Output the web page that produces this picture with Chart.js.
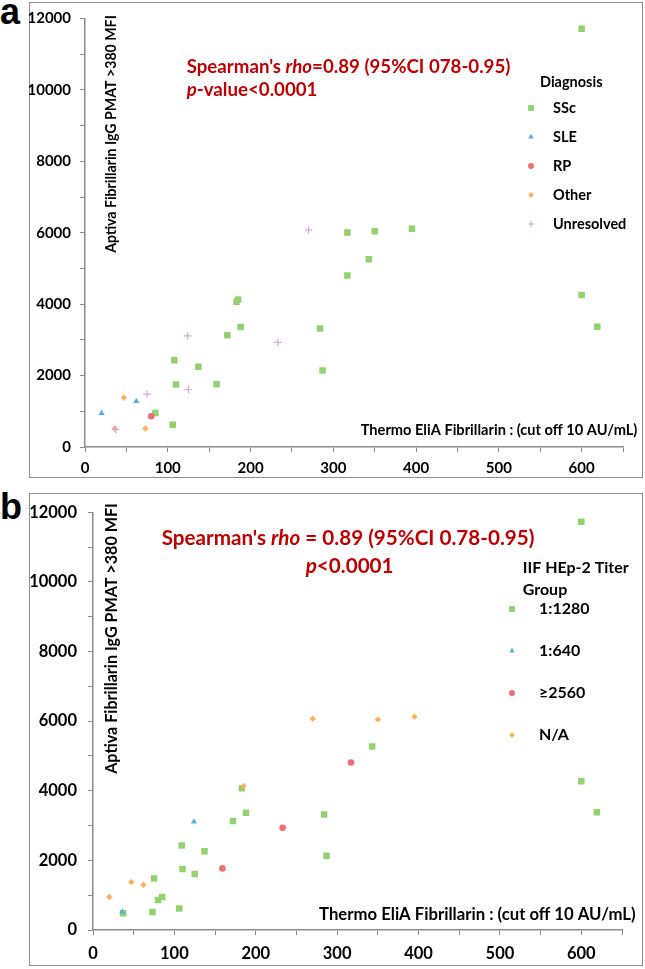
<!DOCTYPE html>
<html><head><meta charset="utf-8">
<script src="https://cdn.jsdelivr.net/npm/chart.js@4.4.1/dist/chart.umd.min.js"></script>
<style>
html,body{margin:0;padding:0;background:#fff;}
body{width:645px;height:969px;position:relative;overflow:hidden;}
.frame{position:absolute;border:1.5px solid #8c8c8c;box-sizing:border-box;}
.tag{position:absolute;font-family:"Liberation Sans",Arial,sans-serif;font-weight:bold;color:#000;line-height:1;}
canvas{position:absolute;}
</style>
</head><body>
<div class="tag" style="left:0px;top:-6px;font-size:36px;">a</div>
<div class="tag" style="left:0px;top:489px;font-size:36px;">b</div>
<div class="frame" style="left:29px;top:2px;width:614px;height:476px;"></div>
<div class="frame" style="left:29px;top:493px;width:614px;height:473px;"></div>
<canvas id="ca" width="614" height="476" style="left:29px;top:2px;width:614px;height:476px;"></canvas>
<canvas id="cb" width="614" height="473" style="left:29px;top:493px;width:614px;height:473px;"></canvas>
<script>
// ---------- DATA: panel a (Diagnosis) ----------
const a_SSc_x = [85,106,108,110,137,159,172,183,185,188,284,287,317,317,343,350,395,600,600,619];
const a_SSc_y = [950,620,2430,1750,2250,1760,3130,4070,4130,3360,3320,2140,4800,6010,5260,6040,6110,11710,4260,3370];
const a_SLE_x = [20,62];
const a_SLE_y = [950,1280];
const a_RP_x = [80];
const a_RP_y = [860];
const a_Other_x = [36,47,73];
const a_Other_y = [520,1380,520];
const a_Unres_x = [37,75,124,125,233,270];
const a_Unres_y = [490,1480,3110,1610,2930,6080];

// ---------- DATA: panel b (IIF HEp-2 Titer Group) ----------
const b_1280_x = [37,73,75,80,85,106,109,110,125,137,172,183,188,284,287,343,600,600,619];
const b_1280_y = [480,520,1480,860,950,620,2430,1750,1610,2260,3130,4070,3370,3320,2130,5270,11730,4270,3380];
const b_640_x = [36,124];
const b_640_y = [520,3110];
const b_2560_x = [159,233,317];
const b_2560_y = [1770,2935,4810];
const b_NA_x = [20,47,62,185,270,350,395];
const b_NA_y = [950,1380,1300,4140,6070,6050,6130];

// ---------- labels / ticks ----------
const legendA = ['SSc','SLE','RP','Other','Unresolved'];
const legendB = ['1:1280','1:640','\u22652560','N/A'];
const xTickLabels = [0,100,200,300,400,500,600];
const yTickLabels = [0,2000,4000,6000,8000,10000,12000];
const xTitle = 'Thermo EliA Fibrillarin : (cut off 10 AU/mL)';
const yTitle = 'Aptiva Fibrillarin IgG PMAT >380 MFI';

const pts = (xs, ys) => xs.map((x, i) => ({x, y: ys[i]}));

const STY = {
  green:  {c:'#93D36F', ps:'rect',     r:4.6},
  blue:   {c:'#55B0E2', ps:'triangle', r:3.6},
  red:    {c:'#EE6E72', ps:'circle',   r:3.3},
  orange: {c:'#FFB061', ps:'rectRot',  r:3.2},
  purple: {c:'#D9A2E6', ps:'cross',    r:3.7}
};
function ds(label, data, s, n, i) {
  return {label, data, pointStyle:s.ps, pointRadius:s.r, pointHoverRadius:s.r,
    backgroundColor:s.c, borderColor:s.c, borderWidth: s.ps==='cross'?1.2:0,
    showLine:false, order: n - i};
}

const FAM = 'Lato, "Open Sans", sans-serif';
const fontStr = (size, italic) => `${italic?'italic ':''}bold ${size}px ${FAM}`;
function segsWidth(ctx, segs, size){ let w=0; segs.forEach(s=>{ctx.font=fontStr(size,s.i); w+=ctx.measureText(s.t).width;}); return w; }
function fitSize(ctx, segs, target){ return 100*target/segsWidth(ctx, segs, 100); }
function drawSegs(ctx, segs, x, y, size, color){
  ctx.fillStyle=color; ctx.textBaseline='middle'; ctx.textAlign='left';
  segs.forEach(s=>{ ctx.font=fontStr(size,s.i); ctx.fillText(s.t,x,y); x+=ctx.measureText(s.t).width; });
}

// plugin: free-positioned texts (annotations & axis titles)
const overlayText = {
  id:'overlayText',
  afterDraw(chart, args, opts){
    const ctx = chart.ctx;
    (opts.blocks||[]).forEach(b=>{
      ctx.save();
      const size = b.fitWidth ? fitSize(ctx, b.lines[0].segs, b.fitWidth) : b.size;
      if (b.rotate){
        ctx.translate(b.cx, b.cy); ctx.rotate(-Math.PI/2);
        const w = segsWidth(ctx, b.lines[0].segs, size);
        drawSegs(ctx, b.lines[0].segs, -w/2, 0, size, b.color);
      } else {
        b.lines.forEach(l=>drawSegs(ctx, l.segs, l.x, l.y, size, b.color));
      }
      ctx.restore();
    });
  }
};

// plugin: legend drawn from the datasets
const boxLegend = {
  id:'boxLegend',
  afterDraw(chart, args, o){
    const ctx = chart.ctx;
    ctx.save();
    ctx.fillStyle='#000'; ctx.textBaseline='middle'; ctx.textAlign='left';
    ctx.font = fontStr(o.size);
    o.title.forEach((t,i)=>ctx.fillText(t, o.titleX, o.titleY + i*o.titleGap));
    chart.data.datasets.forEach((d,i)=>{
      const y = o.rowY + i*o.rowGap;
      const st = {pointStyle:d.pointStyle, radius:d.pointRadius*o.markScale, rotation:0, borderWidth:d.borderWidth};
      ctx.fillStyle=d.backgroundColor; ctx.strokeStyle=d.borderColor; ctx.lineWidth=d.borderWidth||0;
      Chart.helpers.drawPoint(ctx, st, o.markX, y);
      ctx.fillStyle='#000'; ctx.font=fontStr(o.size);
      ctx.fillText(d.label, o.labelX, y);
    });
    ctx.restore();
  }
};

function scales(cfg){
  const tickFont = {family:FAM, weight:'bold', size:cfg.tick, lineHeight:1};
  return {
    x:{type:'linear', min:0, max:650,
       afterFit:s=>{s.height=cfg.xh;},
       afterBuildTicks:s=>{s.ticks=[]; for(let v=0; v<=650; v+=50) s.ticks.push({value:v});},
       ticks:{autoSkip:false, maxRotation:0, minRotation:0, padding:cfg.xpad, color:'#000', font:tickFont,
              callback:v=> xTickLabels.includes(v) ? String(v) : ''},
       grid:{drawOnChartArea:false, drawTicks:true, tickLength:5, color:'#8c8c8c', lineWidth:1},
       border:{display:true, color:'#8c8c8c', width:1.5}},
    y:{type:'linear', min:0, max:12000,
       afterFit:s=>{s.width=cfg.yw;},
       afterBuildTicks:s=>{s.ticks=[]; for(let v=0; v<=12000; v+=1000) s.ticks.push({value:v});},
       ticks:{autoSkip:false, padding:cfg.ypad, color:'#000', font:tickFont,
              callback:v=> yTickLabels.includes(v) ? String(v) : ''},
       grid:{drawOnChartArea:false, drawTicks:true, tickLength:5, color:'#8c8c8c', lineWidth:1},
       border:{display:true, color:'#8c8c8c', width:1.5}}
  };
}

const common = {responsive:false, animation:false, devicePixelRatio:1,
  events:[]};

// ---------- chart a ----------
const dA = [pts(a_SSc_x,a_SSc_y), pts(a_SLE_x,a_SLE_y), pts(a_RP_x,a_RP_y), pts(a_Other_x,a_Other_y), pts(a_Unres_x,a_Unres_y)];
const sA = [STY.green, STY.blue, STY.red, STY.orange, STY.purple];
new Chart(document.getElementById('ca'), {
  type:'scatter',
  data:{datasets: legendA.map((l,i)=>ds(l, dA[i], sA[i], legendA.length, i))},
  options:Object.assign({}, common, {
    layout:{padding:{left:0, top:9, right:20, bottom:0}},
    scales: scales({tick:15, xh:31, yw:56, xpad:8.5, ypad:9}),
    plugins:{legend:{display:false}, tooltip:{enabled:false},
      boxLegend:{size:14.5, title:['Diagnosis'], titleX:511, titleY:80, titleGap:0,
                 markX:502, labelX:524, rowY:106, rowGap:29, markScale:0.9},
      overlayText:{blocks:[
        {color:'#C00000', fitWidth:324, lines:[
          {x:157.7, y:65, segs:[{t:"Spearman's "},{t:'rho',i:true},{t:'=0.89 (95%CI 078-0.95)'}]},
          {x:157.7, y:88, segs:[{t:'p',i:true},{t:'-value<0.0001'}]}]},
        {color:'#000', fitWidth:277, lines:[{x:331.7, y:428, segs:[{t:xTitle}]}]},
        {color:'#000', fitWidth:238, rotate:true, cx:82.7, cy:132, lines:[{segs:[{t:yTitle}]}]}
      ]}}
  }),
  plugins:[overlayText, boxLegend]
});

// ---------- chart b ----------
const dB = [pts(b_1280_x,b_1280_y), pts(b_640_x,b_640_y), pts(b_2560_x,b_2560_y), pts(b_NA_x,b_NA_y)];
const sB = [STY.green, STY.blue, STY.red, STY.orange];
new Chart(document.getElementById('cb'), {
  type:'scatter',
  data:{datasets: legendB.map((l,i)=>ds(l, dB[i], sB[i], legendB.length, i))},
  options:Object.assign({}, common, {
    layout:{padding:{left:0, top:12, right:21, bottom:0}},
    scales: scales({tick:16.5, xh:36, yw:64, xpad:10.5, ypad:11}),
    plugins:{legend:{display:false}, tooltip:{enabled:false},
      boxLegend:{size:16, title:['IIF HEp-2 Titer','Group'], titleX:493.7, titleY:74.7, titleGap:22.3,
                 markX:483, labelX:510, rowY:116, rowGap:42, markScale:0.9},
      overlayText:{blocks:[
        {color:'#C00000', fitWidth:373, lines:[
          {x:132.7, y:45, segs:[{t:"Spearman's "},{t:'rho',i:true},{t:' = 0.89 (95%CI 0.78-0.95)'}]},
          {x:276.7, y:73, segs:[{t:'p',i:true},{t:'<0.0001'}]}]},
        {color:'#000', fitWidth:317, lines:[{x:290, y:422, segs:[{t:xTitle}]}]},
        {color:'#000', fitWidth:271, rotate:true, cx:83, cy:145.5, lines:[{segs:[{t:yTitle}]}]}
      ]}}
  }),
  plugins:[overlayText, boxLegend]
});
</script>
</body></html>
